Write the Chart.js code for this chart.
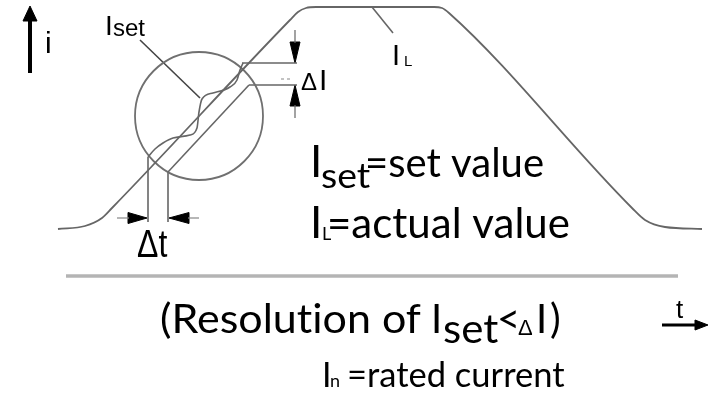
<!DOCTYPE html>
<html>
<head>
<meta charset="utf-8">
<script src="https://cdn.jsdelivr.net/npm/chart.js@4"></script>
<style>
  html, body { margin: 0; padding: 0; background: #fff; }
  #diagram { display: block; }
</style>
</head>
<body>
<canvas id="diagram" width="713" height="396"></canvas>
<script>
// Actual current I_L (trapezoid), t vs i
const ilT = [58, 85, 102, 112, 290, 298, 306, 316, 434, 442, 449, 632, 645, 665, 702];
const ilI = [167, 170, 178, 188, 376, 384, 388, 389, 389, 388, 383, 188, 176, 169, 167];

// shifted set ramp inside the circle
const shiftT = [168, 249];
const shiftI = [224, 311];

// stepped actual value inside the circle
const stepT = [148, 155, 163, 173, 190, 197, 199, 202, 213, 230, 237, 240, 243];
const stepI = [239, 247, 253, 258, 261, 268, 284, 297, 303, 309, 316, 326, 333];

// magnifier circle centre
const lensT = [199];
const lensI = [280];

// delta I levels
const dIupT = [242, 297], dIupI = [333, 333];
const dIloT = [249, 297], dIloI = [311, 311];
const dIdashT = [281, 293], dIdashI = [317, 317];

// delta t drop lines
const dtLeftT = [148, 148], dtLeftI = [239, 174];
const dtRightT = [168, 168], dtRightI = [224, 174];

// label pointers
const setPtrT = [140, 200], setPtrI = [356, 298];
const ilPtrT = [372, 393], ilPtrI = [389, 363];

// separator
const sepT = [66, 678], sepI = [120, 120];

// arrows: shafts and heads
const iShaftT = [30, 30], iShaftI = [323, 377];
const iHeadT = [23, 30, 37, 23], iHeadI = [375, 390, 375, 375];
const tShaftT = [662, 697], tShaftI = [71, 71];
const tHeadT = [695, 708, 695, 695], tHeadI = [76, 71, 66, 76];
const dIupShaftT = [295, 295], dIupShaftI = [366, 353];
const dIupHeadT = [290, 295, 300, 290], dIupHeadI = [354, 333, 354, 354];
const dIloShaftT = [295, 295], dIloShaftI = [278, 291];
const dIloHeadT = [290, 295, 300, 290], dIloHeadI = [290, 311, 290, 290];
const dtLShaftT = [117, 129], dtLShaftI = [178, 178];
const dtLHeadT = [128, 147, 128, 128], dtLHeadI = [183.5, 178, 172.5, 183.5];
const dtRShaftT = [188, 199], dtRShaftI = [178, 178];
const dtRHeadT = [189, 169, 189, 189], dtRHeadI = [183.5, 178, 172.5, 183.5];

const SANS = '"Liberation Sans", Arial, sans-serif';
const labels = [
  { text: 'i', t: 45, i: 343, font: '30px ' + SANS },
  { text: 'I', t: 105, i: 361, font: '28px ' + SANS },
  { text: 'set', t: 113, i: 360, font: '24px ' + SANS },
  { text: 'I', t: 392, i: 331, font: '29px ' + SANS },
  { text: 'L', t: 404, i: 330, font: '15px ' + SANS },
  { text: 'Δ', t: 301, i: 306, font: '24px ' + SANS },
  { text: 'I', t: 319, i: 306, font: '30px ' + SANS },
  { text: 'Δt', t: 137, i: 139, font: '32px ' + SANS, sy: 1.2 },
  { text: 't', t: 676, i: 78, font: '26px ' + SANS },
  { text: 'I', t: 310, i: 219, font: '44px Lato' },
  { text: 'set', t: 321, i: 208, font: '34px Lato', sx: 1.1 },
  { text: '=set value', t: 365, i: 219, font: '40px Lato' },
  { text: 'I', t: 310, i: 158, font: '44px Lato' },
  { text: 'L', t: 322, i: 156, font: '18px Lato' },
  { text: '=actual value', t: 327, i: 158, font: '42px Lato' },
  { text: '(Resolution of', t: 160, i: 63, font: '40px Lato', sx: 1.075 },
  { text: 'I', t: 431, i: 63, font: '40px Lato' },
  { text: 'set', t: 443, i: 53, font: '40px Lato', sx: 1.05 },
  { text: '<', t: 497, i: 63, font: '40px Lato' },
  { text: 'Δ', t: 518, i: 61, font: '22px ' + SANS },
  { text: 'I', t: 536, i: 63, font: '40px Lato' },
  { text: ')', t: 550, i: 63, font: '40px Lato' },
  { text: 'I', t: 322, i: 9, font: '34px Lato' },
  { text: 'n', t: 330, i: 9, font: '18px Lato' },
  { text: '=rated current', t: 347, i: 9, font: '34.5px Lato' }
];

function pts(ts, is) {
  return ts.map((t, k) => ({ x: t, y: is[k] }));
}

function line(ts, is, color, width, extra) {
  return Object.assign({
    data: pts(ts, is),
    showLine: true,
    borderColor: color,
    borderWidth: width,
    pointRadius: 0,
    fill: false
  }, extra || {});
}

function head(ts, is) {
  return {
    data: pts(ts, is),
    showLine: true,
    borderColor: '#000',
    backgroundColor: '#000',
    borderWidth: 1,
    pointRadius: 0,
    fill: 'shape'
  };
}

const GREY = '#666';

const labelPlugin = {
  id: 'labels',
  afterDatasetsDraw(chart) {
    const ctx = chart.ctx;
    const xs = chart.scales.x, ys = chart.scales.y;
    ctx.save();
    ctx.fillStyle = '#000';
    ctx.textBaseline = 'alphabetic';
    ctx.textAlign = 'left';
    ctx.textRendering = 'optimizeSpeed'; // no "ti" ligature
    labels.forEach(l => {
      ctx.save();
      ctx.font = l.font;
      ctx.translate(xs.getPixelForValue(l.t), ys.getPixelForValue(l.i));
      ctx.scale(l.sx || 1, l.sy || 1);
      ctx.fillText(l.text, 0, 0);
      ctx.restore();
    });
    ctx.restore();
  }
};

new Chart(document.getElementById('diagram'), {
  type: 'scatter',
  data: {
    datasets: [
      line(sepT, sepI, '#b4b4b4', 3.5),
      line(ilT, ilI, GREY, 1.8, { cubicInterpolationMode: 'monotone' }),
      line(shiftT, shiftI, GREY, 1.6),
      line(stepT, stepI, GREY, 1.6, { cubicInterpolationMode: 'monotone' }),
      {
        data: pts(lensT, lensI),
        pointRadius: 64,
        pointBorderWidth: 1.8,
        pointBorderColor: '#707070',
        pointBackgroundColor: 'rgba(0,0,0,0)'
      },
      line(dIupT, dIupI, GREY, 1.6),
      line(dIloT, dIloI, GREY, 1.6),
      line(dIdashT, dIdashI, '#888', 1.2, { borderDash: [3, 3] }),
      line(dtLeftT, dtLeftI, GREY, 1.6),
      line(dtRightT, dtRightI, GREY, 1.6),
      line(setPtrT, setPtrI, '#444', 1.6),
      line(ilPtrT, ilPtrI, GREY, 1.6),
      line(iShaftT, iShaftI, '#000', 4),
      head(iHeadT, iHeadI),
      line(tShaftT, tShaftI, '#000', 3),
      head(tHeadT, tHeadI),
      line(dIupShaftT, dIupShaftI, '#666', 1.2),
      head(dIupHeadT, dIupHeadI),
      line(dIloShaftT, dIloShaftI, '#666', 1.2),
      head(dIloHeadT, dIloHeadI),
      line(dtLShaftT, dtLShaftI, '#888', 1.2),
      head(dtLHeadT, dtLHeadI),
      line(dtRShaftT, dtRShaftI, '#888', 1.2),
      head(dtRHeadT, dtRHeadI)
    ]
  },
  options: {
    responsive: false,
    animation: false,
    layout: { padding: 0, autoPadding: false },
    scales: {
      x: { type: 'linear', min: 0, max: 713, display: false },
      y: { type: 'linear', min: 0, max: 396, display: false }
    },
    plugins: {
      legend: { display: false },
      tooltip: { enabled: false }
    }
  },
  plugins: [labelPlugin]
});
</script>
</body>
</html>
